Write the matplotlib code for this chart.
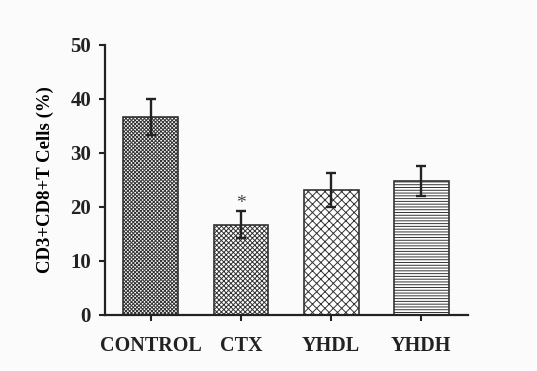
import matplotlib.pyplot as plt
import matplotlib as mpl

groups = ['CONTROL', 'CTX', 'YHDL', 'YHDH']
values = [36.7, 16.7, 23.1, 24.8]
errors = [3.3, 2.5, 3.2, 2.7]
hatches = ['xxxxxxxxx', 'xxxxxxx', 'xxxx', '------']
yticks = [0, 10, 20, 30, 40, 50]

mpl.rcParams['font.family'] = 'Liberation Serif'
mpl.rcParams['font.weight'] = 'bold'
mpl.rcParams['hatch.linewidth'] = 0.7

fig = plt.figure(figsize=(5.37, 3.71), dpi=100, facecolor='#fbfbfb')
ax = fig.add_axes([0.1955, 0.151, 0.676, 0.728])
ax.set_facecolor('#fbfbfb')

x = list(range(len(groups)))
hcolors = ['#6a6a6a', '#8a8a8a', '#777777', '#999999']
for i in x:
    mpl.rcParams['hatch.color'] = hcolors[i]
    ax.bar(i, values[i], width=0.61, color='white', edgecolor='#333333',
           linewidth=1.2, hatch=hatches[i], zorder=2)
ax.errorbar(x, values, yerr=errors, fmt='none', ecolor='#222222',
            elinewidth=1.7, capsize=3.5, capthick=1.7, zorder=3)
ax.text(1, values[1] + errors[1] + 1.4, '*', ha='center', va='center',
        fontsize=14, fontweight='normal', color='#444444')

ax.set_xlim(-0.51, 3.52)
ax.set_ylim(0, 50)
ax.set_yticks(yticks)
ax.set_xticks(x)
ax.set_xticklabels(groups)
ax.tick_params(axis='both', labelsize=15, width=1.5, length=4, colors='#222222')
ax.tick_params(axis='y', pad=6)
ax.tick_params(axis='x', pad=11, labelsize=14.5)
ax.set_ylabel('CD3+CD8+T Cells (%)', fontsize=13.5, fontweight='bold', labelpad=12)
for s in ['top', 'right']:
    ax.spines[s].set_visible(False)
for s in ['left', 'bottom']:
    ax.spines[s].set_linewidth(1.6)
    ax.spines[s].set_color('#222222')

fig.savefig('out.png', dpi=100, facecolor=fig.get_facecolor())
